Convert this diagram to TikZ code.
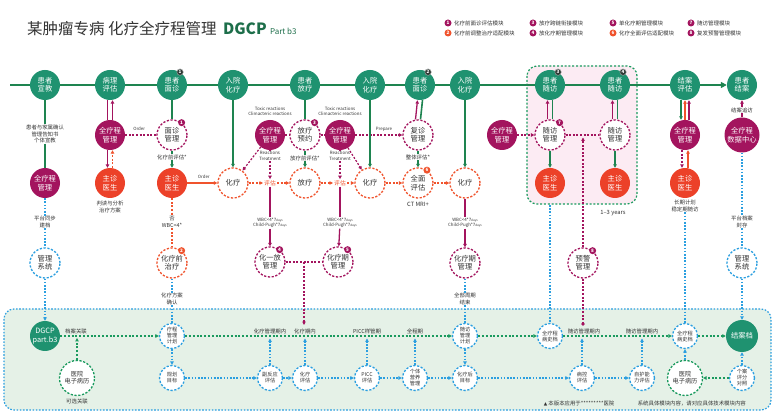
\documentclass[tikz,border=0pt]{standalone}
\usepackage{fontspec}
\setmainfont{Noto Sans CJK SC}
\newfontfamily\dejavu{DejaVu Sans}
\usetikzlibrary{arrows.meta}
\pgfdeclarelayer{bg}
\pgfdeclarelayer{mid}
\pgfsetlayers{bg,mid,main}
\definecolor{G}{HTML}{1F9270}
\definecolor{GL}{HTML}{1E8450}
\definecolor{GD}{HTML}{1A9A5E}
\definecolor{M}{HTML}{A3145E}
\definecolor{R}{HTML}{EC4129}
\definecolor{O}{HTML}{F0532D}
\definecolor{B}{HTML}{2B9FE0}
\definecolor{TX}{HTML}{333333}
\definecolor{DG}{HTML}{1D6E4A}
\definecolor{PF}{HTML}{E5F1E7}
\definecolor{PK}{HTML}{FCEBF3}
\definecolor{BD}{HTML}{2E3A35}
\begin{document}
\begin{tikzpicture}[x=1pt,y=-1pt,
  fa/.style={font=\fontsize{7.3}{8.4}\selectfont},
  fb/.style={font=\fontsize{5.4}{6.2}\selectfont},
  fc/.style={font=\fontsize{4.4}{5.1}\selectfont},
  cbase/.style={circle,minimum size=30pt,inner sep=0pt,align=center,fa},
  gn/.style={cbase,fill=G,text=white},
  mn/.style={cbase,fill=M,text=white},
  rn/.style={cbase,fill=R,text=white},
  dsh/.style={dash pattern=on 2.2pt off 1.6pt,line width=1.3pt},
  md/.style={cbase,draw=M,dsh,fill=white,text=TX},
  od/.style={cbase,draw=O,dsh,fill=white,text=TX},
  bd/.style={cbase,draw=B,dsh,fill=white,text=TX},
  gd/.style={cbase,draw=GD,dsh,fill=white,text=TX},
  sm/.style={minimum size=25pt,font=\fontsize{5.2}{6}\selectfont},
  lbl/.style={fb,text=TX,align=center,inner sep=0.6pt,fill=white},
  tlb/.style={fb,text=TX,align=center,inner sep=0.6pt},
  elb/.style={font=\fontsize{5.8}{6.3}\selectfont,text=O,inner sep=1pt,fill=white},
  ar/.style={-{Triangle[length=3.4pt,width=3.4pt]}},
  gs/.style={draw=GL,line width=1.6pt},
  ms/.style={draw=M,line width=1.3pt},
  mdl/.style={draw=M,line width=1.2pt,dash pattern=on 2pt off 1.6pt},
  os/.style={draw=O,line width=1.2pt},
  odl/.style={draw=O,line width=1.2pt,dash pattern=on 2pt off 1.6pt},
  bdl/.style={draw=B,line width=1.2pt,dash pattern=on 1.6pt off 1.6pt},
  gdl/.style={draw=GD,line width=1.2pt,dash pattern=on 2pt off 1.8pt},
  bdg/.style={circle,inner sep=0pt,minimum size=7pt,text=white,font=\fontsize{4.6}{5}\selectfont\bfseries},
  tbg/.style={bdg,fill=BD,draw=gray!60,line width=0.4pt,minimum size=6.5pt},
  lg/.style={font=\fontsize{5.5}{6.2}\selectfont,text=TX,anchor=west,inner sep=0pt},
  tline/.style={draw=GL,line width=2.6pt,-{Triangle[length=6pt,width=6pt]}}
]
\useasboundingbox (0,0) rectangle (780,414);
\begin{pgfonlayer}{bg}
\fill[white] (0,0) rectangle (780,414);
\filldraw[fill=PF,draw=B,line width=1.2pt,dash pattern=on 1.6pt off 1.6pt,rounded corners=10pt] (4,309) rectangle (771,410);
\filldraw[fill=PK,draw=GD,line width=1.2pt,dash pattern=on 2pt off 1.8pt,rounded corners=10pt] (527,66) rectangle (637,204);
\end{pgfonlayer}

% title
\node[anchor=west,inner sep=0,text=TX,font=\fontsize{15.5}{17}\selectfont] (title) at (27,29) {某肿瘤专病 化疗全疗程管理};
\node[anchor=base west,inner sep=0,text=DG,font=\fontsize{15.5}{17}\selectfont\bfseries] (dgcp) at ([xshift=6pt]title.base east) {DGCP};
\node[anchor=base west,inner sep=0,text=DG,font=\fontsize{8}{9}\selectfont] (partb) at ([xshift=3pt]dgcp.base east) {Part b3};

% legend
\node[bdg,fill=M] (k1) at (448,23) {1}; \node[lg] (k1t) at (454,23) {化疗前面诊评估模块};
\node[bdg,fill=O] (k2) at (448,33) {2}; \node[lg] (k2t) at (454,33) {化疗前调整治疗适配模块};
\node[bdg,fill=M] (k3) at (533,23) {3}; \node[lg] (k3t) at (539,23) {放疗跨链衔接模块};
\node[bdg,fill=M] (k4) at (533,33) {4}; \node[lg] (k4t) at (539,33) {放化疗期管理模块};
\node[bdg,fill=M] (k5) at (613,23) {5}; \node[lg] (k5t) at (619,23) {单化疗期管理模块};
\node[bdg,fill=O] (k6) at (613,33) {6}; \node[lg] (k6t) at (619,33) {化疗全面评估适配模块};
\node[bdg,fill=M] (k7) at (691,23) {7}; \node[lg] (k7t) at (697,23) {随访管理模块};
\node[bdg,fill=M] (k8) at (691,33) {8}; \node[lg] (k8t) at (697,33) {复发预警管理模块};

% top timeline nodes
\coordinate (tls) at (10,85);
\node[gn] (t1) at (45,85) {患者\\宣教};
\node[gn] (t2) at (110,85) {病理\\评估};
\node[gn] (t3) at (172,85) {患者\\面诊};
\node[gn] (t4) at (233,85) {入院\\化疗};
\node[gn] (t5) at (305,85) {患者\\放疗};
\node[gn] (t6) at (370,85) {入院\\化疗};
\node[gn] (t7) at (420,85) {患者\\面诊};
\node[gn] (t8) at (465,85) {入院\\化疗};
\node[gn] (t9) at (550,85) {患者\\随访};
\node[gn] (t10) at (615,85) {患者\\随访};
\node[gn] (t11) at (685,85) {结案\\评估};
\node[gn] (t12) at (742,85) {患者\\结案};
\node[tbg] (tb1) at (t3.58) {1};
\node[tbg] (tb2) at (t7.58) {2};
\node[tbg] (tb3) at (t9.58) {3};
\node[tbg] (tb4) at (t10.58) {4};

% row 2
\node[mn] (m1) at (110,135) {全疗程\\管理};
\node[md] (d1) at (172,135) {面诊\\管理};
\node[mn] (m2) at (270,135) {全疗程\\管理};
\node[md] (d3) at (305,135) {放疗\\预约};
\node[mn] (m3) at (340,135) {全疗程\\管理};
\node[md] (d2) at (418,135) {复诊\\管理};
\node[mn] (m4) at (502,135) {全疗程\\管理};
\node[md] (d7) at (550,135) {随访\\管理};
\node[md] (d7b) at (615,135) {随访\\管理};
\node[mn] (m5) at (685,135) {全疗程\\管理};
\node[mn,minimum size=35pt] (m6) at (742,135) {全疗程\\数据中心};
\node[bdg,fill=M] (bg1) at (d1.52) {1};
\node[bdg,fill=M] (bg3) at (d3.52) {3};
\node[bdg,fill=M] (bg7) at (d7.52) {7};

% row 3
\node[mn] (m0) at (45,183) {全疗程\\管理};
\node[rn] (r1) at (110,183) {主诊\\医生};
\node[rn] (r2) at (172,183) {主诊\\医生};
\node[od] (o1) at (233,183) {化疗};
\node[elb] (e1) at (270,183) {评估};
\node[od] (o2) at (305,183) {放疗};
\node[elb] (e2) at (340,183) {评估};
\node[od] (o3) at (370,183) {化疗};
\node[od] (o4) at (418,183) {全面\\评估};
\node[od] (o5) at (465,183) {化疗};
\node[rn] (r3) at (550,183) {主诊\\医生};
\node[rn] (r4) at (615,183) {主诊\\医生};
\node[rn] (r5) at (685,183) {主诊\\医生};
\node[bdg,fill=O] (bg6) at (o4.55) {6};

% row 4
\node[bd] (s1) at (45,263) {管理\\系统};
\node[od] (o6) at (172,263) {化疗前\\治疗};
\node[md] (d4) at (270,262) {化一放\\管理};
\node[md] (d5) at (338,262) {化疗期\\管理};
\node[md] (d5b) at (465,263) {化疗期\\管理};
\node[md] (d8) at (583,263) {预警\\管理};
\node[bd] (s2) at (742,263) {管理\\系统};
\node[bdg,fill=O] (bg2) at (o6.52) {2};
\node[bdg,fill=M] (bg4) at (d4.52) {4};
\node[bdg,fill=M] (bg5) at (d5.52) {5};
\node[bdg,fill=M] (bg8) at (d8.52) {8};

% bottom row 1
\node[gn] (b0) at (45,336) {DGCP\\part.b3};
\node[bd,sm] (b1) at (172,336) {疗程\\管理\\计划};
\node[bd,sm] (b2) at (465,336) {随访\\管理\\计划};
\node[bd,sm] (b3) at (550,336) {全疗程\\病史档};
\node[bd,sm] (b4) at (685,336) {全疗程\\病史档};
\node[gn,minimum size=32pt] (b5) at (742,336) {结案档};

% bottom row 2
\node[gd,minimum size=35pt,font=\fontsize{6.2}{7.2}\selectfont] (c0) at (77,378) {医院\\电子病历};
\node[bd,sm] (c1) at (172,378) {规划\\目标};
\node[bd,sm] (c2) at (270,378) {副反应\\评估};
\node[bd,sm] (c3) at (305,378) {化疗\\评估};
\node[bd,sm] (c4) at (367,378) {PICC\\评估};
\node[bd,sm] (c5) at (415,378) {个体\\营养\\管理};
\node[bd,sm] (c6) at (465,378) {化疗后\\目标};
\node[bd,sm] (c7) at (582,378) {病控\\评估};
\node[bd,sm] (c8) at (642,378) {自护能\\力评估};
\node[gd,minimum size=35pt,font=\fontsize{6.2}{7.2}\selectfont] (c9) at (685,378) {医院\\电子病历};
\node[bd,sm] (c10) at (742,378) {个案\\评分\\对照};

% text labels
\node[lbl] (l1) at (45,134) {患者与家属确认\\管理告知书\\个体宣教};
\node[lbl] (l2) at (172,157) {化疗前评估*};
\node[lbl] (l3) at (172,222) {否\\WBC<4*};
\node[lbl] (l4) at (172,299) {化疗方案\\确认};
\node[lbl] (l5) at (270,155.5) {\fontsize{4.4}{5.1}\selectfont Reactions\\\fontsize{4.4}{5.1}\selectfont Treatment};
\node[tlb,fc] (l6) at (270,111) {Toxic reactions\\Climacteric reactions};
\node[lbl] (l7) at (305,158) {放疗前评估*};
\node[lbl] (l8) at (340,155.5) {\fontsize{4.4}{5.1}\selectfont Reactions\\\fontsize{4.4}{5.1}\selectfont Treatment};
\node[tlb,fc] (l9) at (340,111) {Toxic reactions\\Climacteric reactions};
\node[tlb,fc] (prep) at (384,129) {Prepare};
\node[lbl] (l10) at (418,157) {整体评估*};
\node[tlb,font=\fontsize{5.8}{6.3}\selectfont] (ctmri) at (418,204) {CT MRI+};
\node[lbl,fc] (w1) at (270,223) {WBC<4*7{\fontsize{3}{3}\selectfont days}\\Child-Pugh*7{\fontsize{3}{3}\selectfont days}};
\node[lbl,fc] (w2) at (340,223) {WBC<4*7{\fontsize{3}{3}\selectfont days}\\Child-Pugh*7{\fontsize{3}{3}\selectfont days}};
\node[lbl,fc] (w3) at (465,223) {WBC<4*7{\fontsize{3}{3}\selectfont days}\\Child-Pugh*7{\fontsize{3}{3}\selectfont days}};
\node[lbl] (l11) at (465,299) {全部周期\\结束};
\node[lbl] (l12) at (110,207) {判读与分析\\治疗方案};
\node[lbl] (l13) at (45,222) {平台同步\\建档};
\node[lbl] (l14) at (742,222) {平台档案\\封存};
\node[lbl] (l15) at (685,206) {长期计划\\稳定期随访};
\node[lbl] (l16) at (742,110) {结案追访};
\node[tlb,font=\fontsize{5.8}{6.3}\selectfont] (yrs) at (613,213) {1–3 years};
\node[tlb] (p1) at (76,331) {档案关联};
\node[tlb] (p2) at (270,331) {化疗管理期内};
\node[tlb] (p3) at (305,331) {化疗期内};
\node[tlb] (p4) at (367,331) {PICC样管期};
\node[tlb] (p5) at (415,331) {全程期};
\node[tlb] (p6) at (584,331) {随访管理期内};
\node[tlb] (p7) at (642,331) {随访管理期内};
\node[tlb] (p8) at (77,401) {可选关联};
\node[tlb,anchor=west] (n1) at (543,403) {{\dejavu\fontsize{4.5}{5}\selectfont ▲} 本版本应用于*********医院};
\node[tlb,anchor=west] (n2) at (637,403) {系统具体模块内容，请对应具体技术模块内容};

% coordinates for free ends
\coordinate (pb) at (550,205);
\coordinate (jn) at (304,262);
\coordinate (jd) at (304,325);
\coordinate (fw) at (583,137.5);
\node[circle,fill=M,inner sep=0pt,minimum size=3.6pt] (dot) at (583,324) {};
\coordinate (u0) at (77,338);
\coordinate (u2) at (270,338.5);
\coordinate (u3) at (305,338.5);
\coordinate (u4) at (367,338.5);
\coordinate (u5) at (415,338.5);
\coordinate (u7) at (582,338.5);
\coordinate (u8) at (642,338.5);

% timeline
\begin{pgfonlayer}{mid}
\draw[tline] (tls) -- (t12.west);
\end{pgfonlayer}

% column 1
\draw[gs] (t1) -- (l1);
\draw[gs] (l1) -- (m0);
\draw[bdl] (m0) -- (l13);
\draw[bdl] (l13) -- (s1);
\draw[bdl,ar] (s1) -- (b0);

% column 2
\draw[ms] ([xshift=-2.5pt]t2.south) -- ([xshift=-2.5pt]m1.north);
\draw[ms,ar] ([xshift=2.5pt]m1.north) -- ([xshift=2.5pt]t2.south);
\draw[ms,ar] ([xshift=-2.5pt]m1.south) -- ([xshift=-2.5pt]r1.north);
\draw[odl,ar] ([xshift=2.5pt]r1.north) -- ([xshift=2.5pt]m1.south);
\draw[mdl] (m1) -- (d1) node[pos=0.45,above=0.5pt,fc,text=TX] (ord1) {Order};

% column 3
\draw[gs] (t3) -- (d1);
\draw[gs] (d1) -- (l2);
\draw[gs,ar] (l2) -- (r2);
\draw[os,ar] (r2) -- (o1) node[pos=0.55,above=0.5pt,fc,text=TX] (ord2) {Order};
\draw[odl] (r2) -- (l3);
\draw[odl] (l3) -- (o6);
\draw[bdl] (o6) -- (l4);
\draw[bdl] (l4) -- (b1);

% radio / chemo block
\draw[gs,ar] (t4) -- (o1);
\draw[mdl,ar] (m2) -- (o1);
\draw[mdl] (m2) -- (l5);
\draw[mdl,ar] (l5) -- (e1);
\draw[mdl] (m2) -- (d3);
\draw[gs] (t5) -- (d3);
\draw[gs] (d3) -- (l7);
\draw[gs,ar] (l7) -- (o2);
\draw[mdl] (d3) -- (m3);
\draw[mdl] (m3) -- (l8);
\draw[mdl,ar] (l8) -- (e2);
\draw[mdl,ar] (m3) -- (o3);
\draw[mdl,ar] (m3) -- (d2);
\draw[gs,ar] (t6) -- (o3);
\draw[ms,ar] ([xshift=-2.5pt]d2.north) -- ([xshift=-2.5pt]t7.south);
\draw[gs] ([xshift=2.5pt]t7.south) -- ([xshift=2.5pt]d2.north);
\draw[gs] (d2) -- (l10);
\draw[gs,ar] (l10) -- (o4);
\draw[odl,ar] (o1) -- (e1);
\draw[odl,ar] (e1) -- (o2);
\draw[odl,ar] (o2) -- (e2);
\draw[odl,ar] (e2) -- (o3);
\draw[odl,ar] (o3) -- (o4);
\draw[odl,ar] (o4) -- (o5);
\draw[gs,ar] (t8) -- (o5);
\draw[ms] (e1) -- (w1);
\draw[ms,ar] (w1) -- (d4);
\draw[ms] (e2) -- (w2);
\draw[ms,ar] (w2) -- (d5);
\draw[ms] (o5) -- (w3);
\draw[ms,ar] (w3) -- (d5b);
\draw[mdl] (d4) -- (d5);
\draw[mdl,ar] (jn) -- (jd);
\draw[bdl] (d5b) -- (l11);
\draw[bdl] (l11) -- (b2);

% follow-up
\draw[mdl,ar] (m4) -- (d7);
\draw[ms,ar] ([xshift=-2.5pt]d7.north) -- ([xshift=-2.5pt]t9.south);
\draw[gs] ([xshift=2.5pt]t9.south) -- ([xshift=2.5pt]d7.north);
\draw[gs,ar] (d7) -- (r3);
\draw[mdl] (d7) -- (d7b);
\draw[ms,ar] ([xshift=-2.5pt]d7b.north) -- ([xshift=-2.5pt]t10.south);
\draw[gs] ([xshift=2.5pt]t10.south) -- ([xshift=2.5pt]d7b.north);
\draw[gs,ar] (d7b) -- (r4);
\draw[mdl,ar] (d8) -- (fw);
\draw[mdl] (d8) -- (dot);
\draw[bdl] (pb) -- (b3);

% closing
\draw[gs,ar] ([xshift=-4pt]t11.south) -- ([xshift=-4pt]m5.north);
\draw[os,ar] (m5.north) -- (t11.south);
\draw[ms,ar] ([xshift=4pt]m5.north) -- ([xshift=4pt]t11.south);
\draw[mdl,ar] ([xshift=-3pt]m5.south) -- ([xshift=-3pt]r5.north);
\draw[os,ar] ([xshift=3pt]r5.north) -- ([xshift=3pt]m5.south);
\draw[bdl] (l15) -- (b4);
\draw[ms] (m6) -- (l16);
\draw[ms,ar] (l16) -- (t12);
\draw[bdl] (m6) -- (l14);
\draw[bdl] (l14) -- (s2);
\draw[bdl,ar] (s2) -- (b5);

% bottom panel
\draw[gdl,ar] (b0) -- (b1);
\draw[gdl,ar] (b1) -- (b2);
\draw[gdl,ar] (b2) -- (b3);
\draw[gdl,ar] (b3) -- (b4);
\draw[gdl,ar] (b4) -- (b5);
\draw[gdl,ar] (c0) -- (u0);
\draw[bdl,ar] (b1) -- (c1);
\draw[bdl,ar] (c1) -- (c2);
\draw[bdl,ar] (c2) -- (c3);
\draw[bdl,ar] (c3) -- (c4);
\draw[bdl,ar] (c4) -- (c5);
\draw[bdl,ar] (c5) -- (c6);
\draw[bdl,ar] (c6) -- (c7);
\draw[bdl,ar] (c7) -- (c8);
\draw[bdl,ar] (c2) -- (u2);
\draw[bdl,ar] (c3) -- (u3);
\draw[bdl,ar] (c4) -- (u4);
\draw[bdl,ar] (c5) -- (u5);
\draw[bdl,ar] (c7) -- (u7);
\draw[bdl,ar] (c8) -- (u8);
\draw[bdl,ar] (b2) -- (c6);
\draw[bdl,ar] (c9) -- (b4);
\draw[bdl,ar] (c10) -- (b5);
\draw[gdl,ar] (c10) -- (c9);
\end{tikzpicture}
\end{document}
